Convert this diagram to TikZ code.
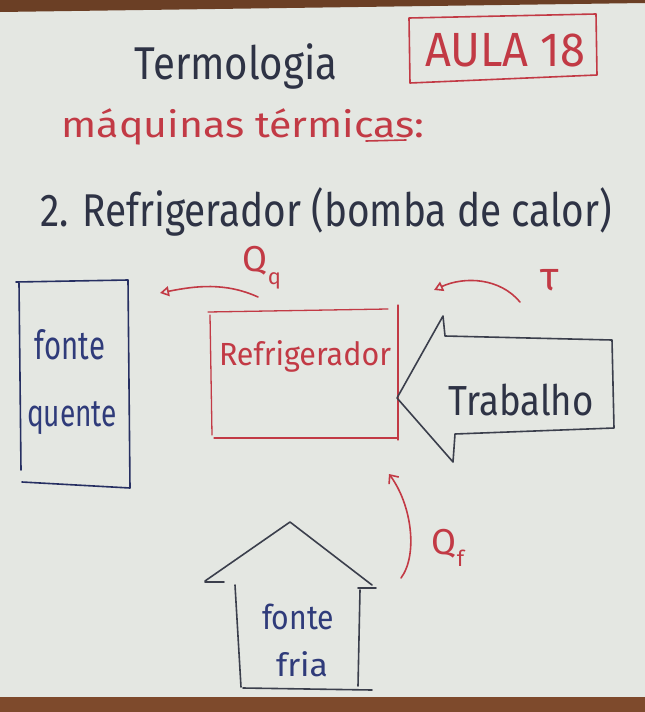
\documentclass[tikz,border=0pt]{standalone}
\usepackage{fontspec}
\setmainfont{Fira Sans}
\usetikzlibrary{arrows.meta}
\newcommand{\fitw}[2]{\resizebox{#1}{\height}{#2}}
\newcommand{\heatsub}[2]{#1\raisebox{-0.35em}{\fontsize{22}{24}\selectfont #2}}
\definecolor{board}{HTML}{E4E7E2}
\definecolor{frame}{HTML}{7E4A2C}
\definecolor{marker}{HTML}{C23A45}
\definecolor{ink}{HTML}{2E3345}
\definecolor{blueink}{HTML}{2F3B7A}
\definecolor{lineink}{HTML}{3B3F4C}
\tikzset{
  redtext/.style={text=marker, inner sep=0pt},
  inktext/.style={text=ink, inner sep=0pt},
  bluetext/.style={text=blueink, inner sep=0pt},
  redline/.style={draw=marker, line width=1.6pt, line join=round, line cap=round},
  inkline/.style={draw=lineink, line width=1.6pt, line join=round, line cap=round},
  flow/.style={redline, -{Triangle[open, length=9pt, width=10pt, line width=1.6pt]}},
  flowup/.style={redline, -{Straight Barb[length=7pt, width=12pt, line width=1.6pt]}},
}
\begin{document}
\begin{tikzpicture}[x=1pt, y=-1pt]
  % whiteboard and frame
  \fill[board] (0,0) rectangle (645,712);
  \useasboundingbox (0,0) rectangle (645,712);
  \fill[frame!85!black] (0,0) -- (645,0) -- (645,3) -- (0,12) -- cycle;
  \fill[frame] (0,697) rectangle (645,712);

  % headings
  \node[inktext, font=\fontsize{46}{50}\selectfont] (title) at (236,66) {\fitw{203pt}{Termologia}};
  \node[redtext, font=\fontsize{48}{52}\selectfont] (aula) at (505,50) {\fitw{160pt}{AULA 18}};
  \draw[redline] (409,18) -- (596,14) -- (597,75) -- (410,83) -- cycle;
  \node[redtext, font=\fontsize{36}{40}\selectfont] (maq) at (243,127) {\fitw{363pt}{máquinas térmicas:}};
  \coordinate (ulA) at (366,141);
  \coordinate (ulB) at (406,140);
  \draw[redline] (ulA) -- (ulB);
  \node[inktext, font=\fontsize{46}{50}\selectfont] (item) at (326,212) {\fitw{572pt}{2. Refrigerador (bomba de calor)}};

  % hot reservoir
  \draw[inkline, draw=blueink!80!black] (16,282) -- (128,280) -- (130,488) -- (22,482);
  \draw[inkline, draw=blueink!80!black] (19,283) -- (21,470);
  \node[bluetext, font=\fontsize{40}{44}\selectfont] (quente1) at (70,345) {\fitw{70pt}{fonte}};
  \node[bluetext, font=\fontsize{38}{42}\selectfont] (quente2) at (72,418) {\fitw{90pt}{quente}};

  % refrigerator
  \draw[redline, line width=1.3pt] (208,312) -- (388,309);
  \draw[redline, line width=1.3pt] (210,315) -- (212,435);
  \draw[redline, line width=1.3pt] (214,438) -- (397,438);
  \draw[redline, line width=1.3pt] (398,305) -- (398,440);
  \node[redtext, font=\fontsize{32}{36}\selectfont] (refr) at (305,356) {\fitw{172pt}{Refrigerador}};

  % heat released to the hot reservoir
  \node[redtext, font=\fontsize{36}{40}\selectfont] (Qq) at (262,268) {\heatsub{Q}{q}};
  \coordinate (qqA) at (258,297);
  \coordinate (qqB) at (160,293);
  \draw[flow] (qqA) .. controls (225,282) and (195,286) .. (qqB);

  % work input
  \node[redtext, font=\fontsize{40}{44}\selectfont] (tau) at (550,280) {τ};
  \coordinate (tauA) at (520,302);
  \coordinate (tauB) at (434,290);
  \draw[flow] (tauA) .. controls (500,278) and (465,276) .. (tauB);

  \draw[inkline] (397,398) -- (443,316) -- (445,336) -- (612,340) -- (614,428)
                 -- (455,434) -- (453,462) -- cycle;
  \node[inktext, font=\fontsize{42}{46}\selectfont] (trab) at (521,400) {\fitw{145pt}{Trabalho}};

  % heat drawn from the cold reservoir
  \node[redtext, font=\fontsize{36}{40}\selectfont] (Qf) at (448,548) {\heatsub{Q}{f}};
  \coordinate (qfA) at (401,578);
  \coordinate (qfB) at (389,474);
  \draw[flowup] (qfA) .. controls (418,555) and (412,505) .. (qfB);

  % cold reservoir drawn as a house
  \draw[inkline] (205,581) -- (290,522) -- (372,585);
  \draw[inkline] (205,582) -- (224,582);
  \draw[inkline] (358,588) -- (376,588);
  \draw[inkline] (235,585) -- (241,687);
  \draw[inkline] (360,590) -- (358,686);
  \draw[inkline] (243,688) -- (372,690);
  \node[bluetext, font=\fontsize{34}{38}\selectfont] (fria1) at (298,617) {\fitw{72pt}{fonte}};
  \node[bluetext, font=\fontsize{32}{36}\selectfont] (fria2) at (302,664) {\fitw{52pt}{fria}};
\end{tikzpicture}
\end{document}
